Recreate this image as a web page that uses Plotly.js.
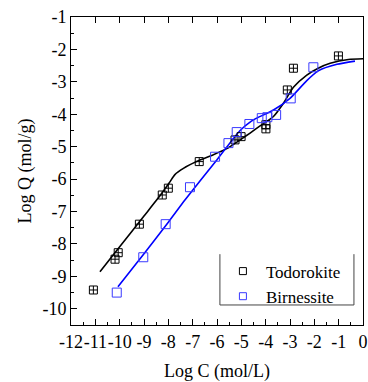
<!DOCTYPE html>
<html><head><meta charset="utf-8">
<script src="https://cdn.plot.ly/plotly-3.0.1.min.js"></script>
<style>html,body{margin:0;padding:0;background:#fff}#chart{width:368px;height:382px}</style>
</head><body><div id="chart"></div>
<script>
// Todorokite experimental points
const todoX = [-11.08, -10.19, -10.06, -9.19, -8.25, -8.0, -6.73, -5.26, -5.01, -3.99, -3.99, -3.11, -2.86, -1.01];
const todoY = [-9.42, -8.47, -8.27, -7.39, -6.49, -6.28, -5.46, -4.79, -4.69, -4.32, -4.45, -3.25, -2.58, -2.2];
// Birnessite experimental points
const birnX = [-10.12, -9.03, -8.11, -7.11, -6.08, -5.53, -5.19, -4.67, -4.16, -3.93, -3.57, -2.97, -2.04];
const birnY = [-9.5, -8.41, -7.39, -6.25, -5.31, -4.89, -4.55, -4.3, -4.12, -4.09, -4.02, -3.51, -2.55];
// Fitted curves
const todoFitX = [-10.81, -10, -9, -8.3, -7.95, -7.73, -7.38, -6.84, -6.15, -5.6, -5.05, -4.64, -4.23, -3.68, -3.27, -2.86, -2.31, -1.84, -1.35, -0.6, 0];
const todoFitY = [-8.86, -8.09, -7.14, -6.47, -6.1, -5.86, -5.67, -5.46, -5.25, -5.06, -4.79, -4.58, -4.36, -4.07, -3.66, -3.17, -2.79, -2.58, -2.43, -2.31, -2.29];
const birnFitX = [-10.07, -9, -8, -7.31, -6, -5.05, -4.6, -4.37, -3.68, -3.0, -2.31, -1.84, -1.07, -0.33];
const birnFitY = [-9.32, -8.3, -7.33, -6.64, -5.4, -4.5, -4.22, -4.12, -3.87, -3.51, -2.96, -2.66, -2.46, -2.36];
const xTicks = [-12, -11, -10, -9, -8, -7, -6, -5, -4, -3, -2, -1, 0];
const yTicks = [-1, -2, -3, -4, -5, -6, -7, -8, -9, -10];
const seriesNames = ['Todorokite', 'Birnessite'];

const F = "'Liberation Serif', 'Times New Roman', serif";
const BLUE = '#3a3aff';
const traces = [
  {x: todoFitX, y: todoFitY, mode: 'lines', line: {color: '#000', width: 1.6, shape: 'spline', smoothing: 0.6}, showlegend: false, hoverinfo: 'skip'},
  {x: birnFitX, y: birnFitY, mode: 'lines', line: {color: '#0000ff', width: 1.6, shape: 'spline', smoothing: 0.6}, showlegend: false, hoverinfo: 'skip'},
  {x: todoX, y: todoY, mode: 'markers', showlegend: false, marker: {symbol: 'square-cross-open', size: 8, color: '#000', line: {width: 1, color: '#000'}}},
  {x: birnX, y: birnY, mode: 'markers', showlegend: false, marker: {symbol: 'square-open', size: 9, color: BLUE, line: {width: 1, color: BLUE}}},
  {x: [null], y: [null], mode: 'markers', name: seriesNames[0], marker: {symbol: 'square-open', size: 7, color: '#000', line: {width: 1, color: '#000'}}},
  {x: [null], y: [null], mode: 'markers', name: seriesNames[1], marker: {symbol: 'square-open', size: 7, color: BLUE, line: {width: 1, color: BLUE}}},
  {x: [], y: [], xaxis: 'x2', showlegend: false}
];
const layout = {
  width: 368, height: 382,
  margin: {l: 71, r: 5, t: 17, b: 57},
  paper_bgcolor: '#fff', plot_bgcolor: '#fff',
  font: {family: F, color: '#000', size: 17},
  xaxis: {
    range: [-12, 0], tickvals: xTicks, ticktext: xTicks.map(String), tickangle: 0,
    ticks: 'inside', ticklen: 6, tickwidth: 1, tickcolor: '#000',
    minor: {dtick: 0.5, tick0: 0, ticks: 'inside', ticklen: 3, tickcolor: '#000', showgrid: false},
    showline: true, linecolor: '#000', linewidth: 1, mirror: true,
    showgrid: false, zeroline: false, automargin: false,
    tickfont: {family: F, size: 18},
    title: {text: 'Log C (mol/L)', font: {family: F, size: 18}, standoff: 14}
  },
  xaxis2: {
    overlaying: 'x', side: 'top', range: [-12, 0], tickvals: xTicks,
    showticklabels: false, ticks: 'inside', ticklen: 6, tickcolor: '#000',
    showgrid: false, zeroline: false, showline: false
  },
  yaxis: {
    range: [-10.5, -1], tickvals: yTicks, ticktext: yTicks.map(String),
    ticks: 'inside', ticklen: 6, tickwidth: 1, tickcolor: '#000',
    minor: {dtick: 0.5, tick0: 0, ticks: 'inside', ticklen: 3, tickcolor: '#000', showgrid: false},
    showline: true, linecolor: '#000', linewidth: 1, mirror: true,
    showgrid: false, zeroline: false, automargin: false,
    tickfont: {family: F, size: 18},
    title: {text: 'Log Q (mol/g)', font: {family: F, size: 18}, standoff: 6}
  },
  legend: {x: 0.51, y: 0.232, xanchor: 'left', yanchor: 'top', bgcolor: 'rgba(0,0,0,0)', borderwidth: 0,
    font: {family: F, size: 17}, itemwidth: 36, tracegroupgap: 0},
  shapes: [
    {type: 'line', xref: 'paper', yref: 'paper', x0: 0.51, x1: 0.51, y0: 0.065, y1: 0.23, line: {color: '#444', width: 1}},
    {type: 'line', xref: 'paper', yref: 'paper', x0: 0.969, x1: 0.969, y0: 0.065, y1: 0.23, line: {color: '#444', width: 1}},
    {type: 'line', xref: 'paper', yref: 'paper', x0: 0.51, x1: 0.969, y0: 0.065, y1: 0.065, line: {color: '#444', width: 1}}
  ]
};
Plotly.newPlot('chart', traces, layout, {displayModeBar: false, staticPlot: true});
</script></body></html>
